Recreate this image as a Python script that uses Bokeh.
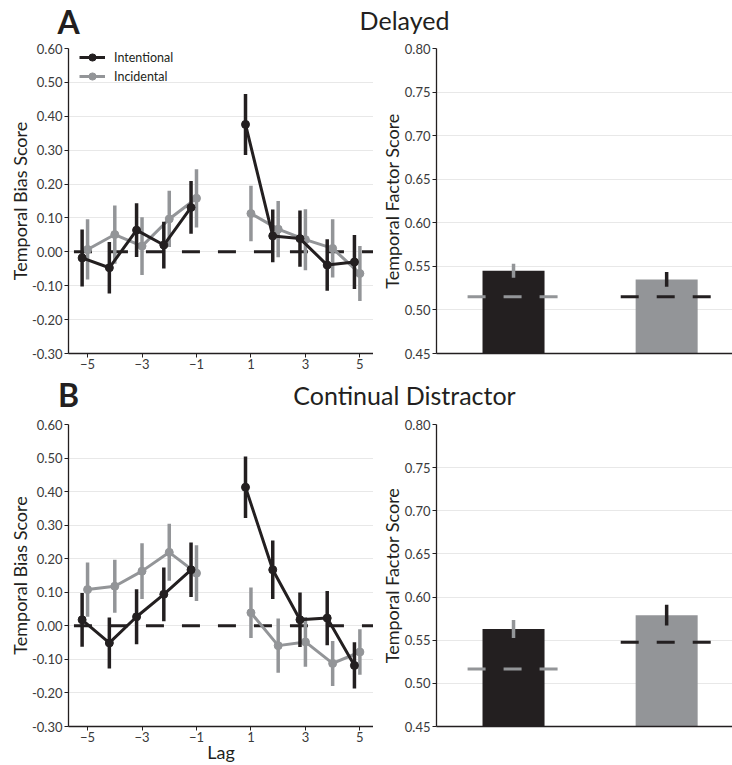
import numpy as np
from bokeh.plotting import figure
from bokeh.models import ColumnDataSource, Range1d, FixedTicker, PrintfTickFormatter, Legend, LegendItem
from bokeh.layouts import column, row
from bokeh.transform import dodge
from bokeh.core.properties import value
from bokeh.embed import file_html
from bokeh.resources import INLINE

# ---------------- data ----------------
lags = [-5, -4, -3, -2, -1, 1, 2, 3, 4, 5]

delayed_intentional = [-0.018, -0.047, 0.064, 0.020, 0.131, 0.376, 0.047, 0.039, -0.039, -0.030]
delayed_intentional_err = [0.084, 0.076, 0.079, 0.069, 0.078, 0.090, 0.078, 0.083, 0.076, 0.080]
delayed_incidental = [0.007, 0.051, 0.017, 0.097, 0.158, 0.113, 0.067, 0.036, 0.010, -0.064]
delayed_incidental_err = [0.089, 0.086, 0.085, 0.083, 0.086, 0.082, 0.083, 0.090, 0.086, 0.081]

continual_intentional = [0.018, -0.051, 0.027, 0.094, 0.167, 0.413, 0.167, 0.018, 0.023, -0.118]
continual_intentional_err = [0.080, 0.076, 0.082, 0.080, 0.081, 0.092, 0.087, 0.081, 0.081, 0.069]
continual_incidental = [0.108, 0.118, 0.163, 0.219, 0.157, 0.039, -0.059, -0.048, -0.112, -0.078]
continual_incidental_err = [0.081, 0.079, 0.083, 0.085, 0.083, 0.075, 0.081, 0.074, 0.067, 0.068]

conditions = ["Intentional", "Incidental"]
delayed_tfs = [0.545, 0.535]
delayed_tfs_err = [0.008, 0.0085]
delayed_chance = [0.515, 0.515]
continual_tfs = [0.563, 0.579]
continual_tfs_err = [0.0105, 0.012]
continual_chance = [0.5165, 0.5475]

bias_ticks = [-0.30, -0.20, -0.10, 0.00, 0.10, 0.20, 0.30, 0.40, 0.50, 0.60]
factor_ticks = [0.45, 0.50, 0.55, 0.60, 0.65, 0.70, 0.75, 0.80]
lag_ticks = [-5, -3, -1, 1, 3, 5]
baseline = 0.0

panel_letters = ["A", "B"]
panel_titles = ["Delayed", "Continual Distractor"]
bias_label = "Temporal Bias Score"
factor_label = "Temporal Factor Score"
lag_label = "Lag"

# ---------------- style ----------------
BLACK = "#231f20"
GRAY = "#939598"
TICK_COLOR = "#3a3a3a"
GRID = "#e8e8e8"
FONT = "Lato"
W_LEFT = 373
W_RIGHT = 732 - W_LEFT


def style_axes(p):
    p.outline_line_color = None
    p.xgrid.grid_line_color = None
    p.ygrid.grid_line_color = GRID
    p.ygrid.grid_line_width = 1
    for ax in p.axis:
        ax.axis_line_color = BLACK
        ax.axis_line_width = 1.3
        ax.major_tick_line_color = BLACK
        ax.major_tick_line_width = 1
        ax.major_tick_out = 4
        ax.major_tick_in = 0
        ax.minor_tick_line_color = None
        ax.major_label_text_font = FONT
        ax.major_label_text_font_size = "13px"
        ax.major_label_text_color = TICK_COLOR
        ax.axis_label_text_font = FONT
        ax.axis_label_text_font_size = "18px"
        ax.axis_label_text_font_style = "normal"
        ax.axis_label_text_color = BLACK


def bias_panel(intent, intent_err, incid, incid_err, height, bottom, show_xlabel, show_legend):
    p = figure(width=W_LEFT, height=height, x_range=Range1d(-5.7, 5.5), y_range=Range1d(-0.3, 0.6),
               output_backend="svg", toolbar_location=None, title=None,
               min_border_left=68, min_border_right=0, min_border_top=8, min_border_bottom=bottom)
    style_axes(p)
    p.yaxis.ticker = FixedTicker(ticks=bias_ticks)
    p.yaxis.formatter = PrintfTickFormatter(format="%.2f")
    p.yaxis.major_label_standoff = 2
    p.yaxis.axis_label = bias_label
    p.yaxis.axis_label_standoff = -2
    p.xaxis.ticker = FixedTicker(ticks=lag_ticks)
    p.xaxis.major_label_overrides = {t: ("\u2212" + str(abs(t)) if t < 0 else str(t)) for t in lag_ticks}
    p.xaxis.major_label_standoff = 1
    if show_xlabel:
        p.xaxis.axis_label = lag_label
        p.xaxis.axis_label_standoff = -4

    lo_lag, hi_lag = min(lags), max(lags)
    p.segment(x0=[lo_lag - 0.5], x1=[hi_lag + 0.5], y0=[baseline], y1=[baseline],
              line_color=BLACK, line_width=3, line_dash="18 18")

    lag = np.array(lags)
    items = []
    for name, vals, errs, col, shift in [("Incidental", incid, incid_err, GRAY, 0.0),
                                         ("Intentional", intent, intent_err, BLACK, -0.2)]:
        v = np.array(vals)
        e = np.array(errs)
        rends = []
        for mask in (lag < 0, lag > 0):
            src = ColumnDataSource(dict(lag=lag[mask], v=v[mask], lo=(v - e)[mask], hi=(v + e)[mask]))
            xs = dodge("lag", shift, range=p.x_range)
            seg = p.segment(x0=xs, x1=xs, y0="lo", y1="hi", line_color=col, line_width=3.5, source=src)
            ln = p.line(x=xs, y="v", line_color=col, line_width=3, source=src)
            sc = p.scatter(x=xs, y="v", size=8, fill_color=col, line_color=col, source=src)
            rends.append((ln, sc, seg))
        items.append(LegendItem(label=name, renderers=[rends[0][0], rends[0][1]]))
    if show_legend:
        legend = Legend(items=items[::-1], location=(11, 268), orientation="vertical",
                        background_fill_alpha=0, border_line_color=None, padding=0, margin=0,
                        spacing=1, glyph_width=26, glyph_height=18, label_height=18,
                        label_standoff=9, label_text_font=FONT, label_text_font_size="12.5px",
                        label_text_color=BLACK)
        p.add_layout(legend)
    return p


def factor_panel(tfs, errs, chance, height, bottom):
    p = figure(width=W_RIGHT, height=height, x_range=Range1d(0.497, 2.43), y_range=Range1d(0.45, 0.80),
               output_backend="svg", toolbar_location=None, title=None,
               min_border_left=63, min_border_right=0, min_border_top=8, min_border_bottom=bottom)
    style_axes(p)
    p.yaxis.ticker = FixedTicker(ticks=factor_ticks)
    p.yaxis.formatter = PrintfTickFormatter(format="%.2f")
    p.yaxis.major_label_standoff = 2
    p.yaxis.axis_label = factor_label
    p.yaxis.axis_label_standoff = -1
    p.xaxis.ticker = FixedTicker(ticks=[])
    t = np.array(tfs)
    e = np.array(errs)
    src = ColumnDataSource(dict(x=np.arange(1, len(conditions) + 1), top=t, lo=t - e, hi=t + e,
                                chance=chance, fill=[BLACK, GRAY], accent=[GRAY, BLACK]))
    p.vbar(x="x", top="top", bottom=p.y_range.start, width=0.405, fill_color="fill",
           line_color=None, source=src)
    p.segment(x0="x", x1="x", y0="lo", y1="hi", line_color="accent", line_width=3.5, source=src)
    p.segment(x0=dodge("x", -0.3, range=p.x_range), x1=dodge("x", 0.3, range=p.x_range),
              y0="chance", y1="chance", line_color="accent", line_width=3, line_dash="18 18", source=src)
    return p


def header(letter, title, height, letter_mid, title_mid):
    h = figure(width=732, height=height, x_range=Range1d(0, 732), y_range=Range1d(height, 0),
               output_backend="svg", toolbar_location=None, x_axis_location=None, y_axis_location=None,
               title=None, min_border=0, min_border_top=0, min_border_bottom=0,
               min_border_left=0, min_border_right=0)
    h.outline_line_color = None
    h.grid.visible = False
    h.text(x=[68], y=[letter_mid], text=[letter], text_font=value(FONT), text_font_style="bold",
           text_font_size="32px", text_align="center", text_baseline="middle", text_color=BLACK)
    h.text(x=[404], y=[title_mid], text=[title], text_font=value(FONT), text_font_size="25px",
           text_align="center", text_baseline="middle", text_color=BLACK)
    return h


h1 = header(panel_letters[0], panel_titles[0], 40, 21, 19)
p1 = bias_panel(delayed_intentional, delayed_intentional_err, delayed_incidental, delayed_incidental_err,
                335, 22, False, True)
p2 = factor_panel(delayed_tfs, delayed_tfs_err, delayed_chance, 335, 22)
h2 = header(panel_letters[1], panel_titles[1], 41, 19, 19)
p3 = bias_panel(continual_intentional, continual_intentional_err, continual_incidental,
                continual_incidental_err, 349, 36, True, False)
p4 = factor_panel(continual_tfs, continual_tfs_err, continual_chance, 349, 36)

layout = column(h1, row(p1, p2), h2, row(p3, p4))

open("out.html", "w").write(file_html(layout, INLINE))
